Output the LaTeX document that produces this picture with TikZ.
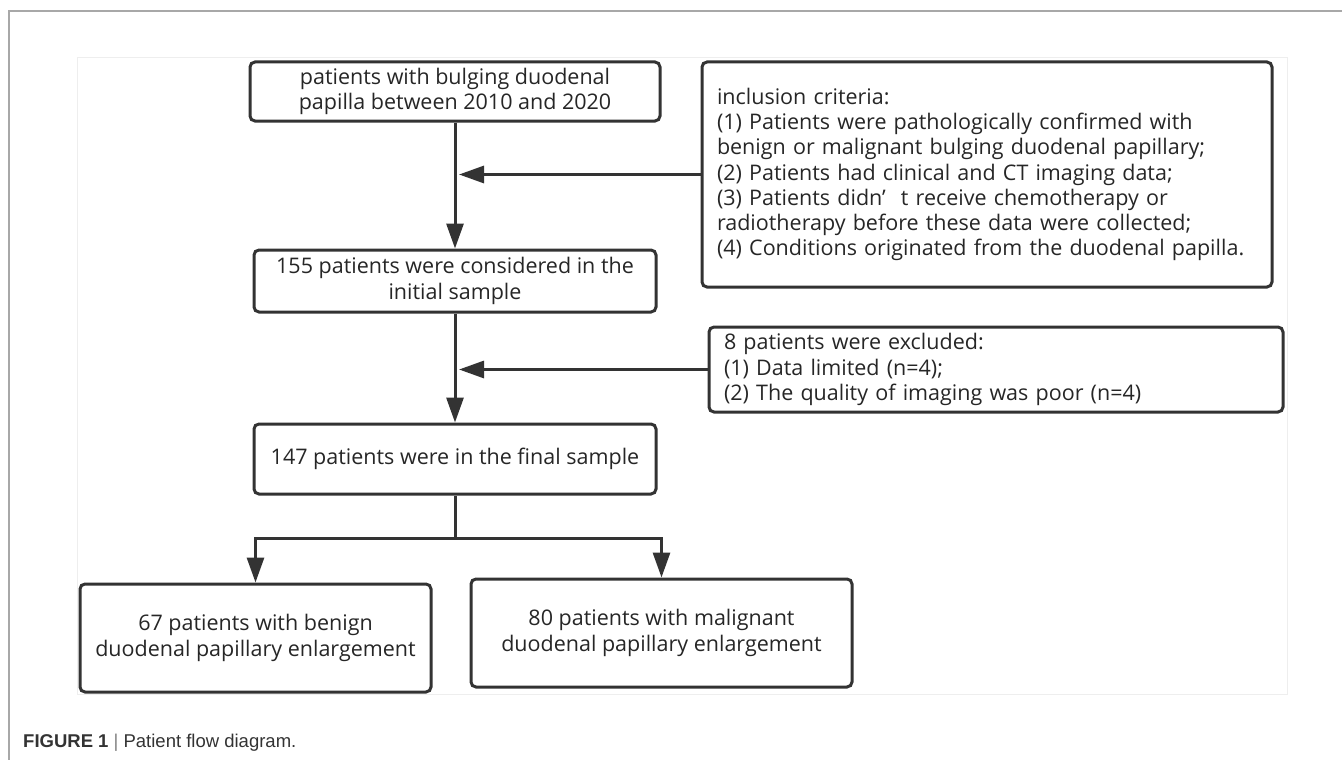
\documentclass[tikz,border=0pt]{standalone}
\usepackage{fontspec}
\setmainfont{Open Sans}
\newfontfamily\capfont{Liberation Sans}
\usepackage{xcolor}
\usetikzlibrary{arrows.meta}
\definecolor{boxline}{HTML}{333333}
\definecolor{frameline}{HTML}{A8A8A8}
\definecolor{innerline}{HTML}{EEEEEE}

\begin{document}
\begin{tikzpicture}[x=1pt,y=1pt]
        \tikzstyle{every node}+=[inner sep=0pt, font=\fontsize{21.5}{25.3}\selectfont, text=black!85]
        \tikzstyle{flowbox}=[draw=boxline, line width=3pt, rounded corners=5pt, align=center]
        \tikzstyle{notebox}=[flowbox, align=left]
        \tikzstyle{link}=[draw=boxline, line width=3pt]
        \tikzstyle{arr}=[link, -{Triangle[length=25pt,width=17pt]}]
        \useasboundingbox (0,0) rectangle (1342,-760);
        % frame of the figure
        \draw [frameline, line width=1.2pt] (9,-760) -- (9,-11) -- (1342,-11);
        \draw [innerline, line width=0.8pt] (77,-57) rectangle (1287,-694);
        % main column
        \node [flowbox, minimum width=410, minimum height=59] (start) at (455,-91.5)
              {patients with bulging duodenal\\papilla between 2010 and 2020};
        \node [flowbox, minimum width=402, minimum height=62] (initial) at (455,-281)
              {155 patients were considered in the\\initial sample};
        \node [flowbox, minimum width=402, minimum height=70] (final) at (455,-459)
              {147 patients were in the final sample};
        \node [flowbox, minimum width=351, minimum height=108] (benign) at (255.5,-638)
              {67 patients with benign\\duodenal papillary enlargement};
        \node [flowbox, minimum width=381, minimum height=108] (malign) at (661.5,-633)
              {80 patients with malignant\\duodenal papillary enlargement};
        % side boxes
        \node [notebox, minimum width=570, minimum height=225, text width=540] (incl) at (987,-174.5)
              {inclusion criteria:\\
               (1) Patients were pathologically confirmed with\\
               benign or malignant bulging duodenal papillary;\\
               (2) Patients had clinical and CT imaging data;\\
               (3) Patients didn’\hspace{0.7em}t receive chemotherapy or\\
               radiotherapy before these data were collected;\\
               (4) Conditions originated from the duodenal papilla.};
        \node [notebox, minimum width=574, minimum height=85, text width=544] (excl) at (996,-369.5)
              {8 patients were excluded:\\
               (1) Data limited (n=4);\\
               (2) The quality of imaging was poor (n=4)};
        % connectors
        \draw [arr] (start) -- (initial);
        \draw [arr] (initial) -- (final);
        \draw [arr, shorten >=4pt] (incl.west) -- (incl.west -| start.south);
        \draw [arr, shorten >=4pt] (excl.west) -- (excl.west -| initial.south);
        \coordinate (split) at (455,-538);
        \draw [link] (final.south) -- (split);
        \draw [arr] (split) -| (benign.north);
        \draw [arr] (split) -| (malign.north);
        % caption
        \node [anchor=west, font=\capfont\fontsize{18.5}{22}\selectfont, text=black!80] (caption) at (23,-743)
              {\textbf{FIGURE 1} {\color{black!50}|} Patient flow diagram.};
\end{tikzpicture}
\end{document}
